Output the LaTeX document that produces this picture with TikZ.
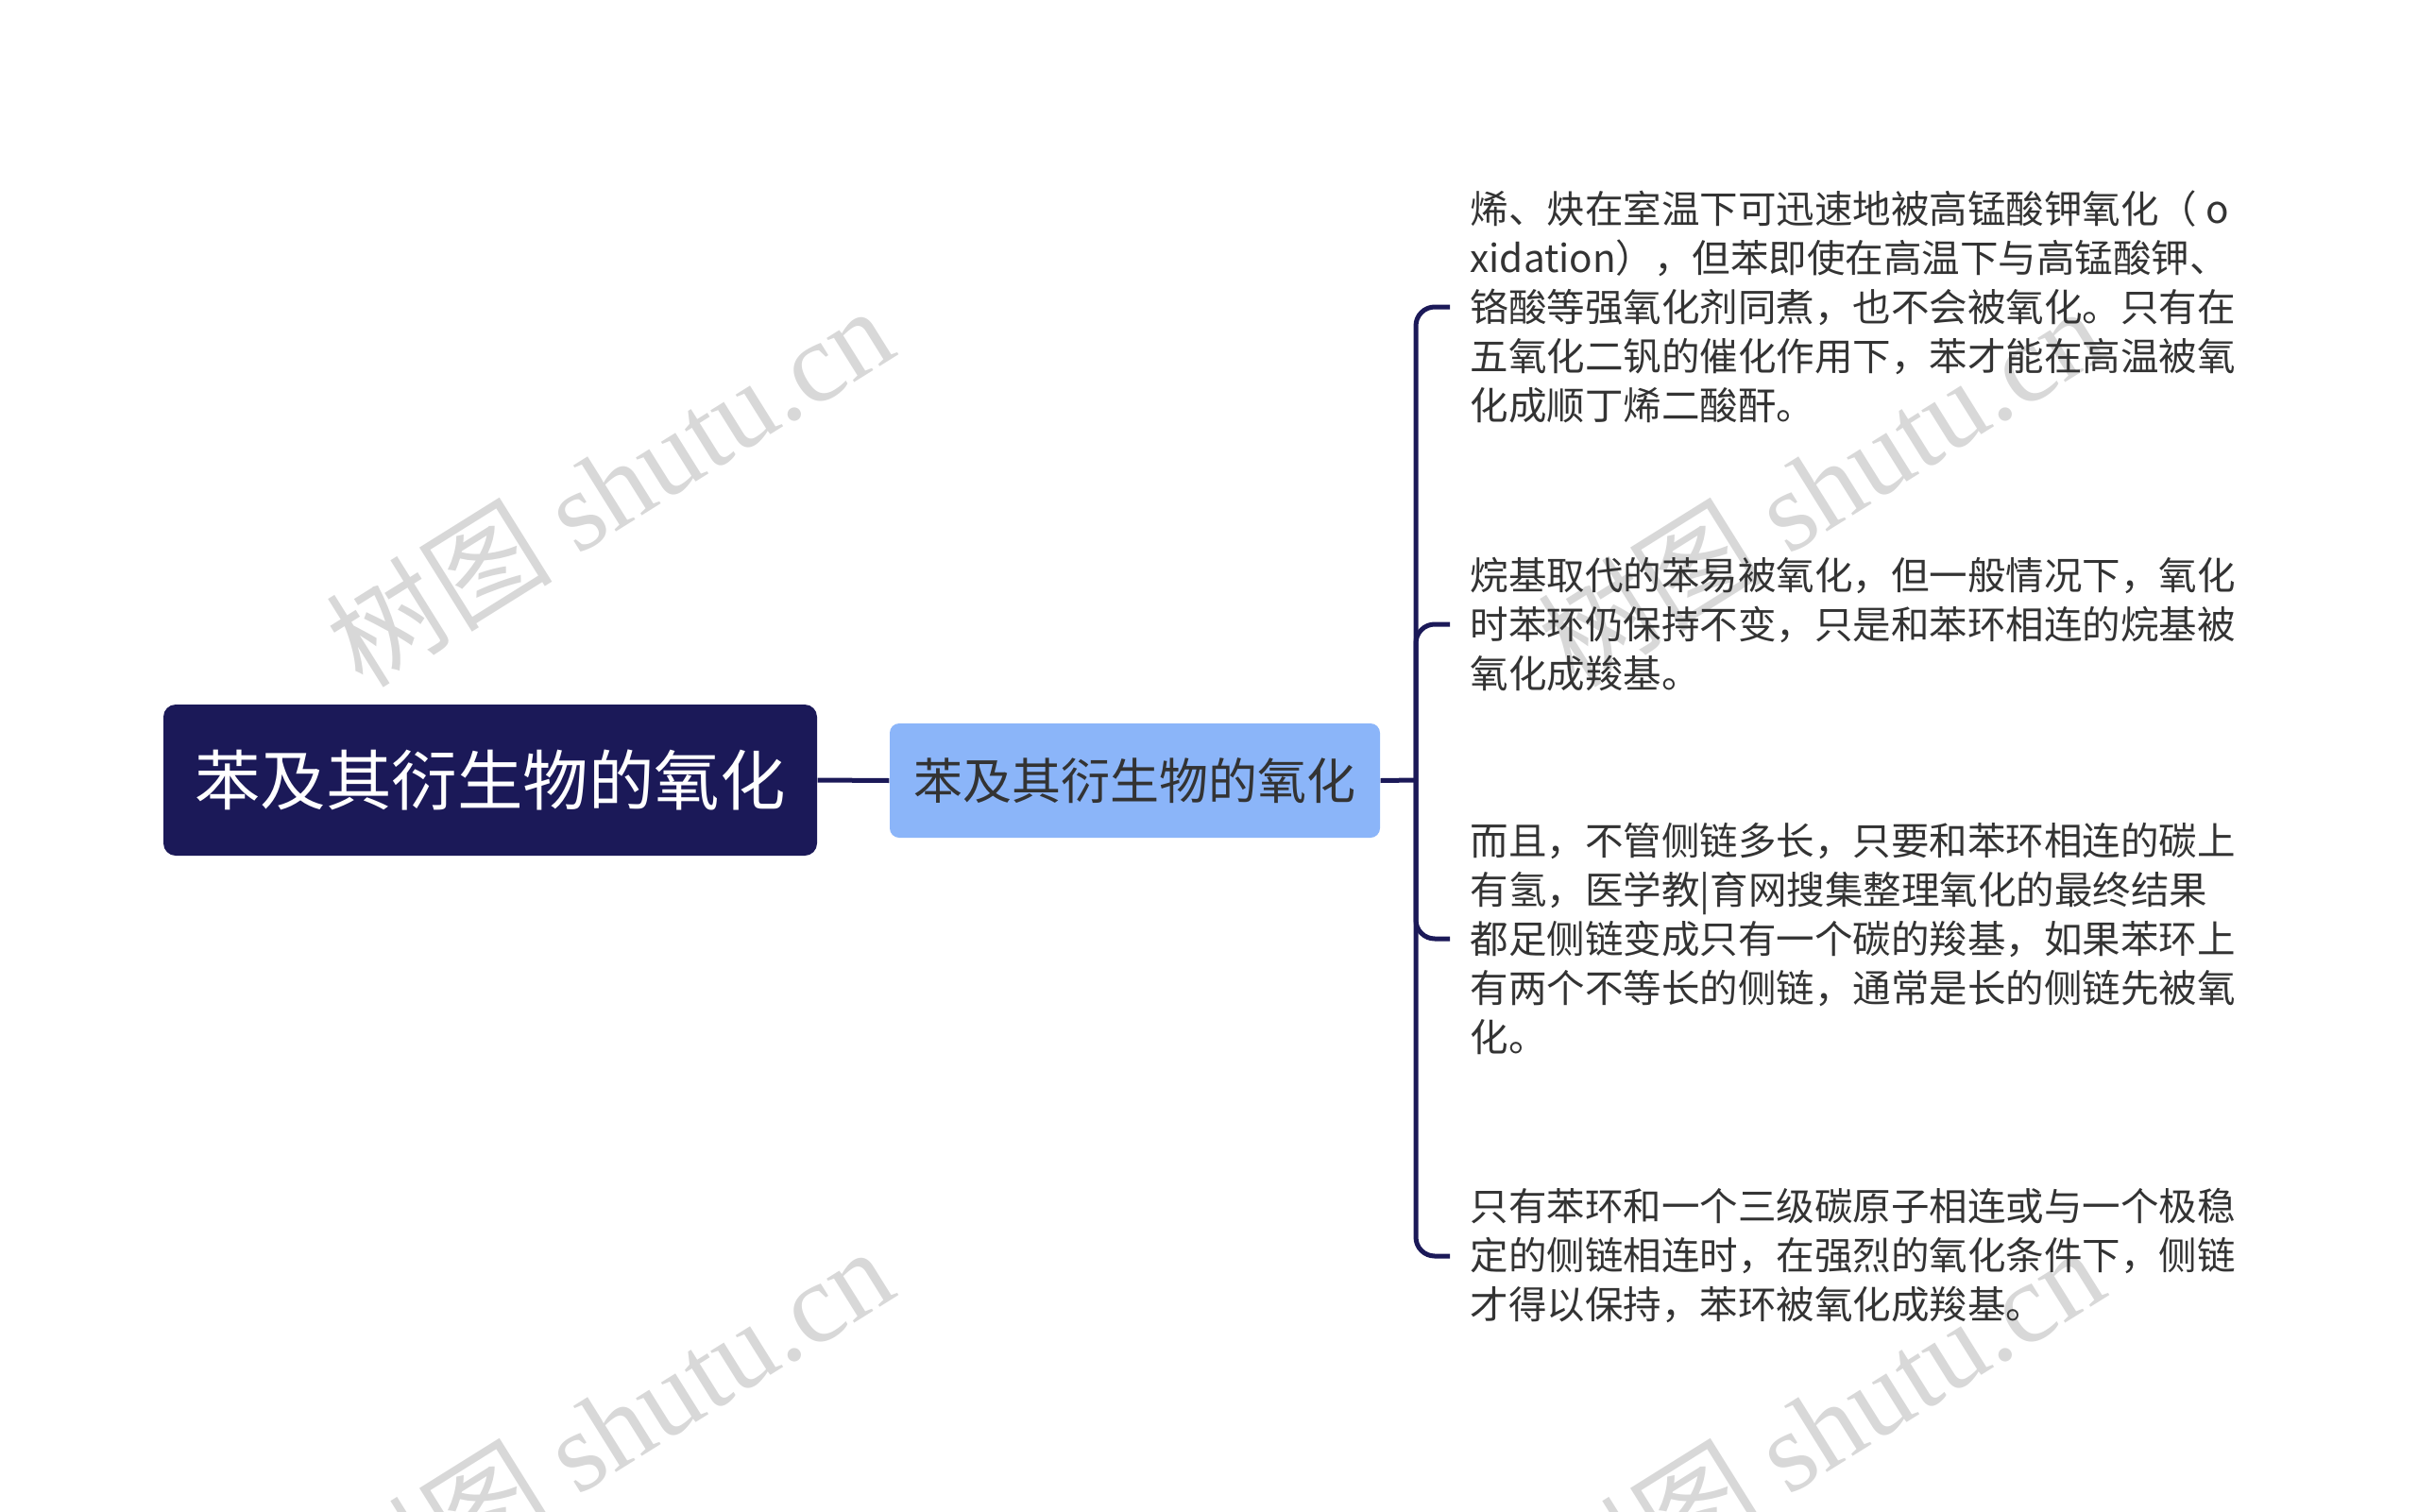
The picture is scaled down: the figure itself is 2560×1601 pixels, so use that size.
\documentclass[tikz,border=0pt]{standalone}
\usepackage{fontspec}
\setmainfont{Noto Sans CJK SC}
\newfontfamily\wmfont{Liberation Serif}
\newfontfamily\wmcjk{Noto Sans CJK SC}
\definecolor{navy}{HTML}{1B1958}
\definecolor{lightblue}{HTML}{8BB5F9}
\definecolor{txtgray}{HTML}{333333}
\definecolor{wmgray}{HTML}{D8D8D8}
\tikzset{
  rootbox/.style={fill=navy, text=white, rounded corners=3.9pt, minimum width=207.6pt, minimum height=48pt, inner sep=0pt, font=\fontsize{20.85}{25}\selectfont},
  subbox/.style={fill=lightblue, text=txtgray, rounded corners=3pt, minimum width=155.7pt, minimum height=36.3pt, inner sep=0pt, font=\fontsize{15.6}{19}\selectfont},
  leaf/.style={anchor=west, align=left, text=txtgray, inner xsep=6.3pt, inner ysep=0pt, font=\fontsize{12.15}{15.6}\selectfont},
  conn/.style={draw=navy, line width=1.5pt},
  wm/.style={text=wmgray, rotate=32, inner sep=0pt, font=\fontsize{36}{38}\selectfont}
}
\begin{document}
\begin{tikzpicture}[x=0.3pt,y=-0.3pt]
\useasboundingbox (0,0) rectangle (2560,1601);
% watermarks
\node[wm] (wm1) at (645,514) {{\wmcjk 树图} \wmfont shutu.cn};
\node[wm] (wm2) at (1927,514) {{\wmcjk 树图} \wmfont shutu.cn};
\node[wm] (wm3) at (645,1510) {{\wmcjk 树图} \wmfont shutu.cn};
\node[wm] (wm4) at (1927,1510) {{\wmcjk 树图} \wmfont shutu.cn};
% nodes
\node[rootbox] (root) at (519,826) {苯及其衍生物的氧化};
\node[subbox] (sub) at (1201.5,826.5) {苯及其衍生物的氧化};
\coordinate (hub) at (1499,826);
\node[leaf] (leaf1) at (1535,325) {烯、炔在室温下可迅速地被高锰酸钾氧化（ o\\xidation），但苯即使在高温下与高锰酸钾、\\铬酸等强氧化剂同煮，也不会被氧化。只有在\\五氧化二钒的催化作用下，苯才能在高温被氧\\化成顺丁烯二酸酐。};
\node[leaf] (leaf2) at (1535,661) {烷基取代的苯易被氧化，但一般情况下，氧化\\时苯环仍保持不变，只是和苯环相连的烷基被\\氧化成羧基。};
\node[leaf] (leaf3) at (1535,994) {而且，不管侧链多长，只要和苯环相连的碳上\\有氢，医学教|育网搜集整理氧化的最终结果\\都足侧链变成只有一个碳的羧基，如果苯环上\\有两个不等长的侧链，通常是长的侧链先被氧\\化。};
\node[leaf] (leaf4) at (1535,1330) {只有苯环和一个三级碳原子相连或与一个极稳\\定的侧链相连时，在强烈的氧化条件下，侧链\\才得以保持，苯环被氧化成羧基。};
% connectors
\draw[conn] (root.east) -- (sub.west);
\draw[conn] (sub.east) -- (hub);
\foreach \l in {leaf1,leaf2,leaf3,leaf4}
  \draw[conn, rounded corners=6pt] (hub) |- (\l.west);
\end{tikzpicture}
\end{document}
